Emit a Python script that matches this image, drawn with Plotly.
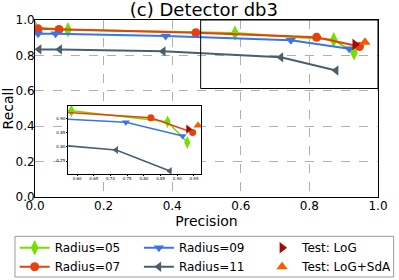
import plotly.graph_objects as go

# Data (Precision, Recall)
r05_p = [0.0, 0.096, 0.583, 0.871, 0.930]
r05_r = [0.958, 0.945, 0.926, 0.888, 0.815]
r07_p = [0.009, 0.070, 0.469, 0.821, 0.946]
r07_r = [0.950, 0.947, 0.928, 0.902, 0.850]
r09_p = [0.009, 0.060, 0.381, 0.746, 0.916]
r09_r = [0.922, 0.922, 0.909, 0.886, 0.838]
r11_p = [0.012, 0.072, 0.374, 0.717, 0.878]
r11_r = [0.834, 0.834, 0.823, 0.789, 0.715]
log_p = [0.933]
log_r = [0.862]
sda_p = [0.962]
sda_r = [0.875]

C05 = "#77dd00"
C07 = "#e8400a"
C09 = "#3a74e6"
C11 = "#4a5f6e"
CLOG = "#a00c00"
CSDA = "#f06000"

series = [
    ("Radius=05", r05_p, r05_r, C05, "diamond-tall", "legend"),
    ("Radius=07", r07_p, r07_r, C07, "circle", "legend"),
    ("Radius=09", r09_p, r09_r, C09, "triangle-down", "legend2"),
    ("Radius=11", r11_p, r11_r, C11, "triangle-left", "legend2"),
]

fig = go.Figure()
for name, px, py, col, sym, leg in series:
    size = 9 if sym != "diamond-tall" else 11
    fig.add_trace(go.Scatter(x=px, y=py, mode="lines+markers", name=name,
                             line=dict(color=col, width=2),
                             marker=dict(symbol=sym, size=size, color=col),
                             legend=leg, xaxis="x", yaxis="y"))
    fig.add_trace(go.Scatter(x=px, y=py, mode="lines+markers", showlegend=False,
                             line=dict(color=col, width=1.5),
                             marker=dict(symbol=sym, size=size - 2, color=col),
                             xaxis="x2", yaxis="y2"))

fig.add_trace(go.Scatter(x=log_p, y=log_r, mode="markers", name="Test: LoG",
                         marker=dict(symbol="triangle-right", size=10, color=CLOG),
                         legend="legend3", xaxis="x", yaxis="y"))
fig.add_trace(go.Scatter(x=sda_p, y=sda_r, mode="markers", name="Test: LoG+SdA",
                         marker=dict(symbol="triangle-up", size=10, color=CSDA),
                         legend="legend3", xaxis="x", yaxis="y"))
fig.add_trace(go.Scatter(x=log_p, y=log_r, mode="markers", showlegend=False,
                         marker=dict(symbol="triangle-right", size=8, color=CLOG),
                         xaxis="x2", yaxis="y2"))
fig.add_trace(go.Scatter(x=sda_p, y=sda_r, mode="markers", showlegend=False,
                         marker=dict(symbol="triangle-up", size=8, color=CSDA),
                         xaxis="x2", yaxis="y2"))

font = "DejaVu Sans"
leg_common = dict(orientation="v", xanchor="left", y=-0.205, yanchor="top",
                  borderwidth=0, bgcolor="rgba(0,0,0,0)", font=dict(size=12),
                  tracegroupgap=0, itemwidth=30, traceorder="normal")

fig.update_layout(
    width=399, height=280,
    margin=dict(l=35, r=21, t=19.5, b=82.5, pad=0, autoexpand=False),
    paper_bgcolor="white", plot_bgcolor="white",
    font=dict(family=font, color="black", size=12),
    title=dict(text="(c) Detector db3", x=0.511, xanchor="center", y=0.965, yanchor="middle",
               font=dict(size=18, family=font)),
    xaxis=dict(domain=[0, 1], range=[0, 1], tickvals=[0, 0.2, 0.4, 0.6, 0.8, 1.0],
               ticktext=["0.0", "0.2", "0.4", "0.6", "0.8", "1.0"],
               showgrid=True, gridcolor="#b0b0b0", griddash="dash", gridwidth=1,
               showline=True, linecolor="black", linewidth=1, mirror=True,
               ticks="", zeroline=False, tickfont=dict(size=12), ticklabelstandoff=-2,
               title=dict(text="Precision", font=dict(size=14), standoff=0)),
    yaxis=dict(domain=[0, 1], range=[0, 1], tickvals=[0, 0.2, 0.4, 0.6, 0.8, 1.0],
               ticktext=["0.0", "0.2", "0.4", "0.6", "0.8", "1.0"],
               showgrid=True, gridcolor="#b0b0b0", griddash="dash", gridwidth=1,
               showline=True, linecolor="black", linewidth=1, mirror=True,
               ticks="", zeroline=False, tickfont=dict(size=12), ticklabelstandoff=-3,
               title=dict(text="Recall", font=dict(size=14), standoff=1)),
    xaxis2=dict(domain=[0.0964, 0.484], anchor="y2", range=[0.573, 0.971],
                tickvals=[0.60, 0.65, 0.70, 0.75, 0.80, 0.85, 0.90, 0.95],
                ticktext=["0.60", "0.65", "0.70", "0.75", "0.80", "0.85", "0.90", "0.95"],
                tickfont=dict(size=4), showgrid=False, zeroline=False,
                showline=True, linecolor="black", linewidth=1, mirror=True,
                ticks="outside", ticklen=1, tickcolor="black"),
    yaxis2=dict(domain=[0.132, 0.514], anchor="x2", range=[0.706, 0.943],
                tickvals=[0.75, 0.80, 0.85, 0.90],
                ticktext=["0.75", "0.80", "0.85", "0.90"],
                tickfont=dict(size=4), showgrid=False, zeroline=False,
                showline=True, linecolor="black", linewidth=1, mirror=True,
                ticks="outside", ticklen=1, tickcolor="black"),
    legend=dict(x=-0.0593, **leg_common),
    legend2=dict(x=0.3029, **leg_common),
    legend3=dict(x=0.6621, **leg_common),
    shapes=[
        dict(type="rect", xref="x", yref="y", x0=0.483, x1=1.0, y0=0.613, y1=1.0,
             line=dict(color="black", width=1), fillcolor="rgba(0,0,0,0)", layer="above"),
        dict(type="rect", xref="x2 domain", yref="y2 domain", x0=0, x1=1, y0=0, y1=1,
             line=dict(width=0), fillcolor="white", layer="below"),
        dict(type="rect", xref="paper", yref="paper", x0=-0.0584, x1=1.0456,
             y0=-0.452, y1=-0.222, line=dict(color="#999999", width=1),
             fillcolor="white", layer="below"),
    ],
)

fig.write_html("out.html", config={"displayModeBar": False},
               post_script="document.body.style.margin='0px';")
